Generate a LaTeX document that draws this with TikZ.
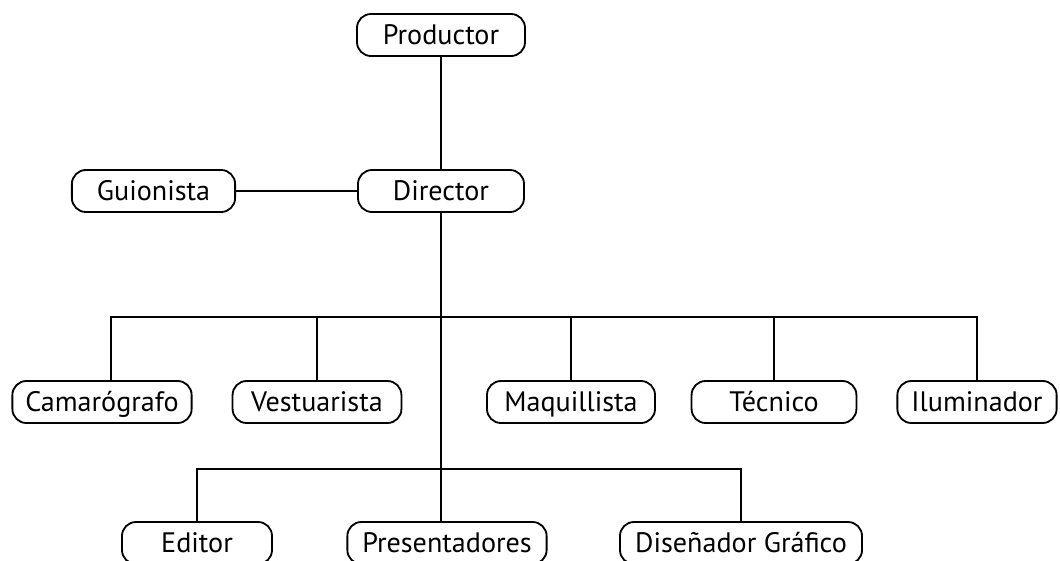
\documentclass[tikz,border=0pt]{standalone}
\usepackage{fontspec}
\setmainfont{PT Sans}
\begin{document}
\begin{tikzpicture}[x=0.025cm,y=-0.025cm,line width=1.3pt,
  puesto/.style={draw,rounded corners=0.35cm,minimum height=1.05cm,
    inner sep=0pt,text height=0.6cm,text depth=0.11cm,
    font=\fontsize{20}{22}\selectfont}]
\useasboundingbox (0,0) rectangle (1060,560);
\node[puesto,minimum width=4.2cm] (prod) at (441,35) {Productor};
\node[puesto,minimum width=4.15cm] (dir) at (441,191) {Director};
\node[puesto,minimum width=4.08cm] (guion) at (153.5,191) {Guionista};
\node[puesto,minimum width=4.48cm] (cam) at (102,402) {Camarógrafo};
\node[puesto,minimum width=4.22cm] (vest) at (317,402) {Vestuarista};
\node[puesto,minimum width=4.2cm] (maq) at (571,402) {Maquillista};
\node[puesto,minimum width=4.12cm] (tec) at (774,402) {Técnico};
\node[puesto,minimum width=3.98cm] (ilum) at (977,402) {Iluminador};
\node[puesto,minimum width=3.75cm] (edit) at (197,543) {Editor};
\node[puesto,minimum width=4.98cm] (pres) at (447,543) {Presentadores};
\node[puesto,minimum width=6.05cm] (dis) at (741,543) {Diseñador Gráfico};
\coordinate (rama1) at (441,317);
\coordinate (rama2) at (441,469);
\draw (prod) -- (dir);
\draw (guion) -- (dir);
\draw (dir.south) -- (dir.south |- pres.north);
\draw (rama1) -| ([xshift=0.225cm]cam.north);
\draw (rama1) -| (ilum.north);
\draw (rama1 -| vest.north) -- (vest.north);
\draw (rama1 -| maq.north) -- (maq.north);
\draw (rama1 -| tec.north) -- (tec.north);
\draw (rama2) -| (edit.north);
\draw (rama2) -| (dis.north);
\end{tikzpicture}
\end{document}
